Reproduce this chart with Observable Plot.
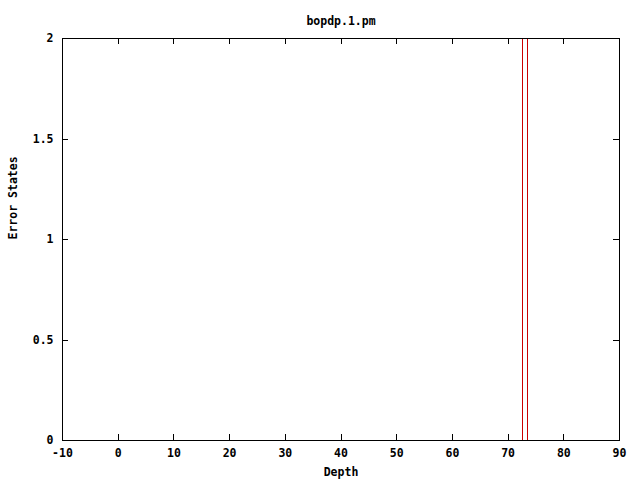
<!DOCTYPE html>
<html>
<head>
<meta charset="utf-8">
<script src="https://cdn.jsdelivr.net/npm/d3@7"></script>
<script src="https://cdn.jsdelivr.net/npm/@observablehq/plot@0.6"></script>
<style>
  html, body { margin: 0; padding: 0; background: #fff; }
</style>
</head>
<body>
<div id="chart"></div>
<script>
const title = "bopdp.1.pm";
const xLabel = "Depth";
const yLabel = "Error States";
const xTicks = [-10, 0, 10, 20, 30, 40, 50, 60, 70, 80, 90];
const yTicks = [0, 0.5, 1, 1.5, 2];
const errorDepths = [72.5, 73.5];
const errorLow = [0, 0];
const errorHigh = [2, 2];

const segs = errorDepths.map((d, i) => ({depth: d, lo: errorLow[i], hi: errorHigh[i]}));

const W = 640, H = 480, mL = 62, mR = 21, mT = 38, mB = 40;
const pw = W - mL - mR, ph = H - mT - mB;
const tick = 6;
const font = "'DejaVu Sans Mono', 'Liberation Mono', monospace";

const chart = Plot.plot({
  width: W, height: H,
  marginLeft: mL, marginRight: mR, marginTop: mT, marginBottom: mB,
  style: {fontFamily: font, fontSize: "11.5px", fontWeight: "bold", background: "#fff", color: "#000"},
  x: {domain: [-10, 90], axis: null},
  y: {domain: [0, 2], axis: null},
  marks: [
    Plot.ruleX(segs, {x: "depth", y1: "lo", y2: "hi", stroke: "#cc0000", strokeWidth: 1, shapeRendering: "crispEdges"}),
    Plot.tickX(xTicks, {x: d => d, insetTop: ph - tick, stroke: "#000", shapeRendering: "crispEdges"}),
    Plot.tickX(xTicks, {x: d => d, insetBottom: ph - tick, stroke: "#000", shapeRendering: "crispEdges"}),
    Plot.tickY(yTicks, {y: d => d, insetRight: pw - tick, stroke: "#000", shapeRendering: "crispEdges"}),
    Plot.tickY(yTicks, {y: d => d, insetLeft: pw - tick, stroke: "#000", shapeRendering: "crispEdges"}),
    Plot.frame({stroke: "#000", strokeWidth: 1, shapeRendering: "crispEdges"}),
    Plot.text(xTicks, {x: d => d, frameAnchor: "bottom", dy: 16, text: d => String(d), fill: "#000"}),
    Plot.text(yTicks, {y: d => d, frameAnchor: "left", dx: -9, textAnchor: "end", text: d => String(d), fill: "#000"}),
    Plot.text([xLabel], {frameAnchor: "bottom", dy: 35, text: d => d, fill: "#000"}),
    Plot.text([yLabel], {frameAnchor: "left", dx: -49, rotate: -90, text: d => d, fill: "#000"}),
    Plot.text([title], {frameAnchor: "top", dy: -22, text: d => d, fill: "#000"})
  ]
});
document.getElementById("chart").appendChild(chart);
</script>
</body>
</html>
